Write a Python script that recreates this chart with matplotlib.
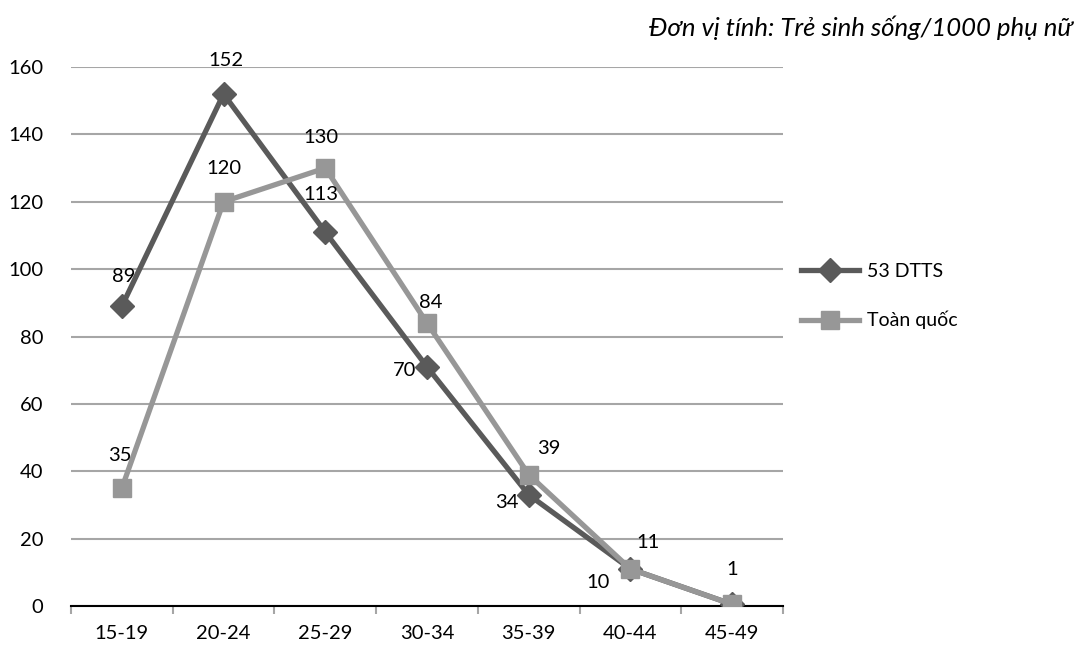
import matplotlib
matplotlib.use("Agg")
import matplotlib.pyplot as plt
import numpy as np

categories = ["15-19", "20-24", "25-29", "30-34", "35-39", "40-44", "45-49"]
dtts_values = [89, 152, 111, 71, 33, 11, 0.5]
dtts_labels = ["89", "152", "113", "70", "34", "10", ""]
tq_values = [35, 120, 130, 84, 39, 11, 0.5]
tq_labels = ["35", "120", "130", "84", "39", "11", "1"]
y_ticks = [0, 20, 40, 60, 80, 100, 120, 140, 160]
series_names = ["53 DTTS", "Toàn quốc"]

plt.rcParams['font.family'] = ['Lato', 'DejaVu Sans']

fig = plt.figure(figsize=(10.86, 6.54), dpi=100)
ax = fig.add_axes([71/1086, 1-606/654, (783-71)/1086, (606-67)/654])

x = np.arange(len(categories))
dark = "#5a5a5a"
light = "#979797"
fs = 14.5

ax.plot(x, dtts_values, color=dark, lw=3.8, marker="D", ms=12, mec=dark, mfc=dark,
        label=series_names[0], zorder=3)
ax.plot(x, tq_values, color=light, lw=3.8, marker="s", ms=13, mec=light, mfc=light,
        label=series_names[1], zorder=4)

ax.set_xlim(-0.5, len(categories) - 0.5)
ax.set_ylim(0, 160)
ax.set_yticks(y_ticks)
ax.grid(axis="y", color="#a6a6a6", lw=1.5)
ax.set_axisbelow(True)
for s in ["left", "right", "top"]:
    ax.spines[s].set_visible(False)
ax.spines["bottom"].set_color("black")
ax.spines["bottom"].set_linewidth(1.5)
ax.tick_params(axis="y", length=0, pad=20, labelsize=fs)

ax.set_xticks(x)
ax.set_xticklabels(categories)
ax.tick_params(axis="x", which="major", length=0, pad=14, labelsize=fs)
ax.set_xticks(np.arange(-0.5, len(categories)), minor=True)
ax.tick_params(axis="x", which="minor", length=6, width=1.5, color="#a6a6a6")

dtts_off = [(2, 30), (2, 33), (-4, 38), (-22, -4), (-22, -8), (-32, -14), (0, 0)]
tq_off = [(-2, 33), (0, 33), (-4, 31), (4, 21), (20, 26), (18, 26), (0, 35)]
for xi, v, lab, off in zip(x, dtts_values, dtts_labels, dtts_off):
    if lab:
        ax.annotate(lab, (xi, v), xytext=off, textcoords="offset pixels",
                    ha="center", va="center", fontsize=fs, color="black", zorder=5)
for xi, v, lab, off in zip(x, tq_values, tq_labels, tq_off):
    if lab:
        ax.annotate(lab, (xi, v), xytext=off, textcoords="offset pixels",
                    ha="center", va="center", fontsize=fs, color="black", zorder=5)

leg = fig.legend(loc="center left", bbox_to_anchor=(783/1086, 1-296/654),
                 frameon=False, fontsize=14, handlelength=3.0,
                 labelspacing=1.6, handletextpad=0.4)

fig.text(1073/1086, 1-28/654, "Đơn vị tính: Trẻ sinh sống/1000 phụ nữ",
         ha="right", va="center", fontsize=18.5, style="italic")

fig.savefig("out.png", dpi=100)
